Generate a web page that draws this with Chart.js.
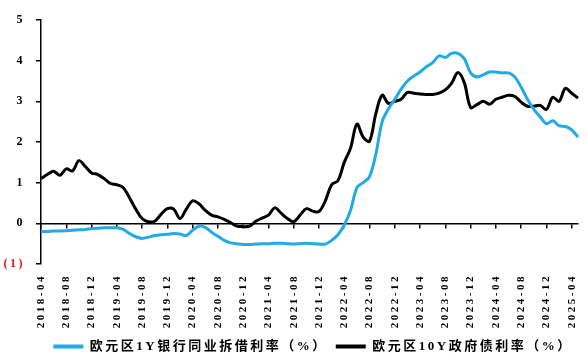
<!DOCTYPE html>
<html lang="zh-CN">
<head>
<meta charset="utf-8">
<title>欧元区利率</title>
<script src="https://cdn.jsdelivr.net/npm/chart.js@4.4.1/dist/chart.umd.min.js"></script>
<style>
  html, body { margin: 0; padding: 0; background: #fff; }
  #wrap { width: 588px; height: 363px; }
</style>
</head>
<body>
<div id="wrap"><canvas id="chart"></canvas></div>
<script>
// ---------------------------------------------------------------------------
// Data (monthly)
// ---------------------------------------------------------------------------

const months = [
    '2018-04', '2018-05', '2018-06', '2018-07', '2018-08', '2018-09', '2018-10', '2018-11', '2018-12',
    '2019-01', '2019-02', '2019-03', '2019-04', '2019-05', '2019-06', '2019-07', '2019-08', '2019-09', '2019-10', '2019-11', '2019-12',
    '2020-01', '2020-02', '2020-03', '2020-04', '2020-05', '2020-06', '2020-07', '2020-08', '2020-09', '2020-10', '2020-11', '2020-12',
    '2021-01', '2021-02', '2021-03', '2021-04', '2021-05', '2021-06', '2021-07', '2021-08', '2021-09', '2021-10', '2021-11', '2021-12',
    '2022-01', '2022-02', '2022-03', '2022-04', '2022-05', '2022-06', '2022-07', '2022-08', '2022-09', '2022-10', '2022-11', '2022-12',
    '2023-01', '2023-02', '2023-03', '2023-04', '2023-05', '2023-06', '2023-07', '2023-08', '2023-09', '2023-10', '2023-11', '2023-12',
    '2024-01', '2024-02', '2024-03', '2024-04', '2024-05', '2024-06', '2024-07', '2024-08', '2024-09', '2024-10', '2024-11', '2024-12',
    '2025-01', '2025-02', '2025-03', '2025-04', '2025-05',
];

// 欧元区1Y银行同业拆借利率（%）
const euribor1y = [
    -0.20, -0.20, -0.19, -0.19, -0.18, -0.17, -0.16, -0.15, -0.13,
    -0.12, -0.11, -0.11, -0.11, -0.15, -0.25, -0.33, -0.37, -0.34, -0.30, -0.28, -0.27,
    -0.25, -0.26, -0.30, -0.17, -0.07, -0.10, -0.22, -0.32, -0.42, -0.48, -0.50, -0.52,
    -0.52, -0.51, -0.50, -0.50, -0.49, -0.49, -0.50, -0.51, -0.50, -0.49, -0.50, -0.51,
    -0.51, -0.42, -0.28, -0.04, 0.32, 0.88, 1.00, 1.15, 1.70, 2.50, 2.82, 3.05,
    3.30, 3.50, 3.62, 3.72, 3.85, 3.95, 4.12, 4.08, 4.18, 4.18, 4.05, 3.70,
    3.60, 3.65, 3.72, 3.72, 3.70, 3.70, 3.60, 3.35, 3.05, 2.80, 2.62, 2.45,
    2.52, 2.40, 2.38, 2.30, 2.12,
];

// 欧元区10Y政府债利率（%）
const gov10y = [
    1.10, 1.20, 1.28, 1.18, 1.34, 1.29, 1.54, 1.40, 1.24,
    1.20, 1.10, 0.98, 0.95, 0.88, 0.63, 0.35, 0.12, 0.04, 0.05, 0.22, 0.36,
    0.35, 0.12, 0.35, 0.55, 0.48, 0.32, 0.20, 0.16, 0.10, 0.02, -0.07, -0.08,
    -0.07, 0.05, 0.13, 0.20, 0.38, 0.25, 0.12, 0.04, 0.20, 0.36, 0.30, 0.29,
    0.55, 0.95, 1.05, 1.50, 1.85, 2.44, 2.12, 2.02, 2.70, 3.15, 2.95, 3.00,
    3.05, 3.22, 3.20, 3.18, 3.17, 3.17, 3.20, 3.28, 3.45, 3.71, 3.46, 2.85,
    2.92, 3.00, 2.93, 3.05, 3.10, 3.15, 3.12, 2.98, 2.88, 2.88, 2.90, 2.80,
    3.10, 3.00, 3.32, 3.20, 3.08,
];

const BLUE  = '#22aae6';
const BLACK = '#000000';
const RED   = '#e8141c';
const SERIF = "'Liberation Serif', 'Noto Sans CJK SC', serif";

// ---------------------------------------------------------------------------
// Plugins
// ---------------------------------------------------------------------------

// The reference text is spaced out a little; canvas letterSpacing is reset
// whenever the canvas is resized, so set it again before layout and draw.
const letterSpacing = {
    id: 'letterSpacing',
    beforeUpdate(chart) { chart.ctx.letterSpacing = '2.5px'; },
    beforeDraw(chart)   { chart.ctx.letterSpacing = '2.5px'; },
};

// The legend in the reference sits a bit right of centre.
const legendShift = {
    id: 'legendShift',
    afterLayout(chart) {
        chart.legend.left  += 24;
        chart.legend.right += 24;
    },
};

// ---------------------------------------------------------------------------
// Chart
// ---------------------------------------------------------------------------

new Chart(document.getElementById('chart'), {
    type: 'line',
    data: {
        labels: months,
        datasets: [
            {
                label: '欧元区1Y银行同业拆借利率（%）',
                data: euribor1y,
                borderColor: BLUE,
                backgroundColor: BLUE,
                borderWidth: 3,
                pointRadius: 0,
                tension: 0.35,
                xAxisID: 'x',
            },
            {
                label: '欧元区10Y政府债利率（%）',
                data: gov10y,
                borderColor: BLACK,
                backgroundColor: BLACK,
                borderWidth: 3,
                pointRadius: 0,
                tension: 0.35,
                xAxisID: 'x',
            },
        ],
    },
    options: {
        responsive: true,
        maintainAspectRatio: false,
        animation: false,
        layout: { padding: { left: 0, right: 10, top: 20, bottom: 0 } },
        plugins: {
            tooltip: { enabled: false },
            legend: {
                position: 'bottom',
                labels: {
                    boxWidth: 30,
                    boxHeight: 4,
                    padding: 8,
                    color: BLACK,
                    font: { family: SERIF, size: 13, weight: 'bold' },
                    generateLabels(chart) {
                        return Chart.defaults.plugins.legend.labels.generateLabels(chart)
                            .map(item => ({ ...item, lineWidth: 0 }));
                    },
                },
            },
        },
        scales: {
            // bottom axis: rotated month labels only
            x: {
                type: 'category',
                position: 'bottom',
                offset: false,
                grid: { display: false, drawTicks: false },
                border: { display: false },
                ticks: {
                    autoSkip: false,
                    minRotation: 90,
                    maxRotation: 90,
                    padding: 10,
                    color: BLACK,
                    font: { family: SERIF, size: 11, weight: 'bold' },
                    callback: (v, i) => (i % 4 === 0 ? months[i] : ''),
                },
                afterFit(scale) {
                    scale.height = 68;
                    scale.paddingLeft = 0;
                    scale.paddingRight = 4;
                },
            },
            // zero line with tick marks every four months
            x0: {
                type: 'category',
                labels: months,
                position: { y: 0 },
                offset: false,
                ticks: { display: false },
                grid: {
                    drawOnChartArea: false,
                    tickLength: 4,
                    lineWidth: 1.5,
                    color: ctx => (ctx.index % 4 === 0 ? BLACK : 'rgba(0,0,0,0)'),
                },
                border: { color: BLACK, width: 1.5 },
            },
            y: {
                position: 'left',
                min: -1,
                max: 5,
                grid: {
                    drawOnChartArea: false,
                    tickLength: 5,
                    lineWidth: 1.5,
                    color: BLACK,
                },
                border: { color: BLACK, width: 1.5 },
                ticks: {
                    stepSize: 1,
                    padding: 11,
                    font: { family: SERIF, size: 12, weight: 'bold' },
                    color: ctx => (ctx.tick.value < 0 ? RED : BLACK),
                    callback: v => (v < 0 ? `(${Math.abs(v)})` : v),
                },
                afterFit(scale) { scale.width = 41; },
            },
        },
    },
    plugins: [letterSpacing, legendShift],
});
</script>
</body>
</html>
